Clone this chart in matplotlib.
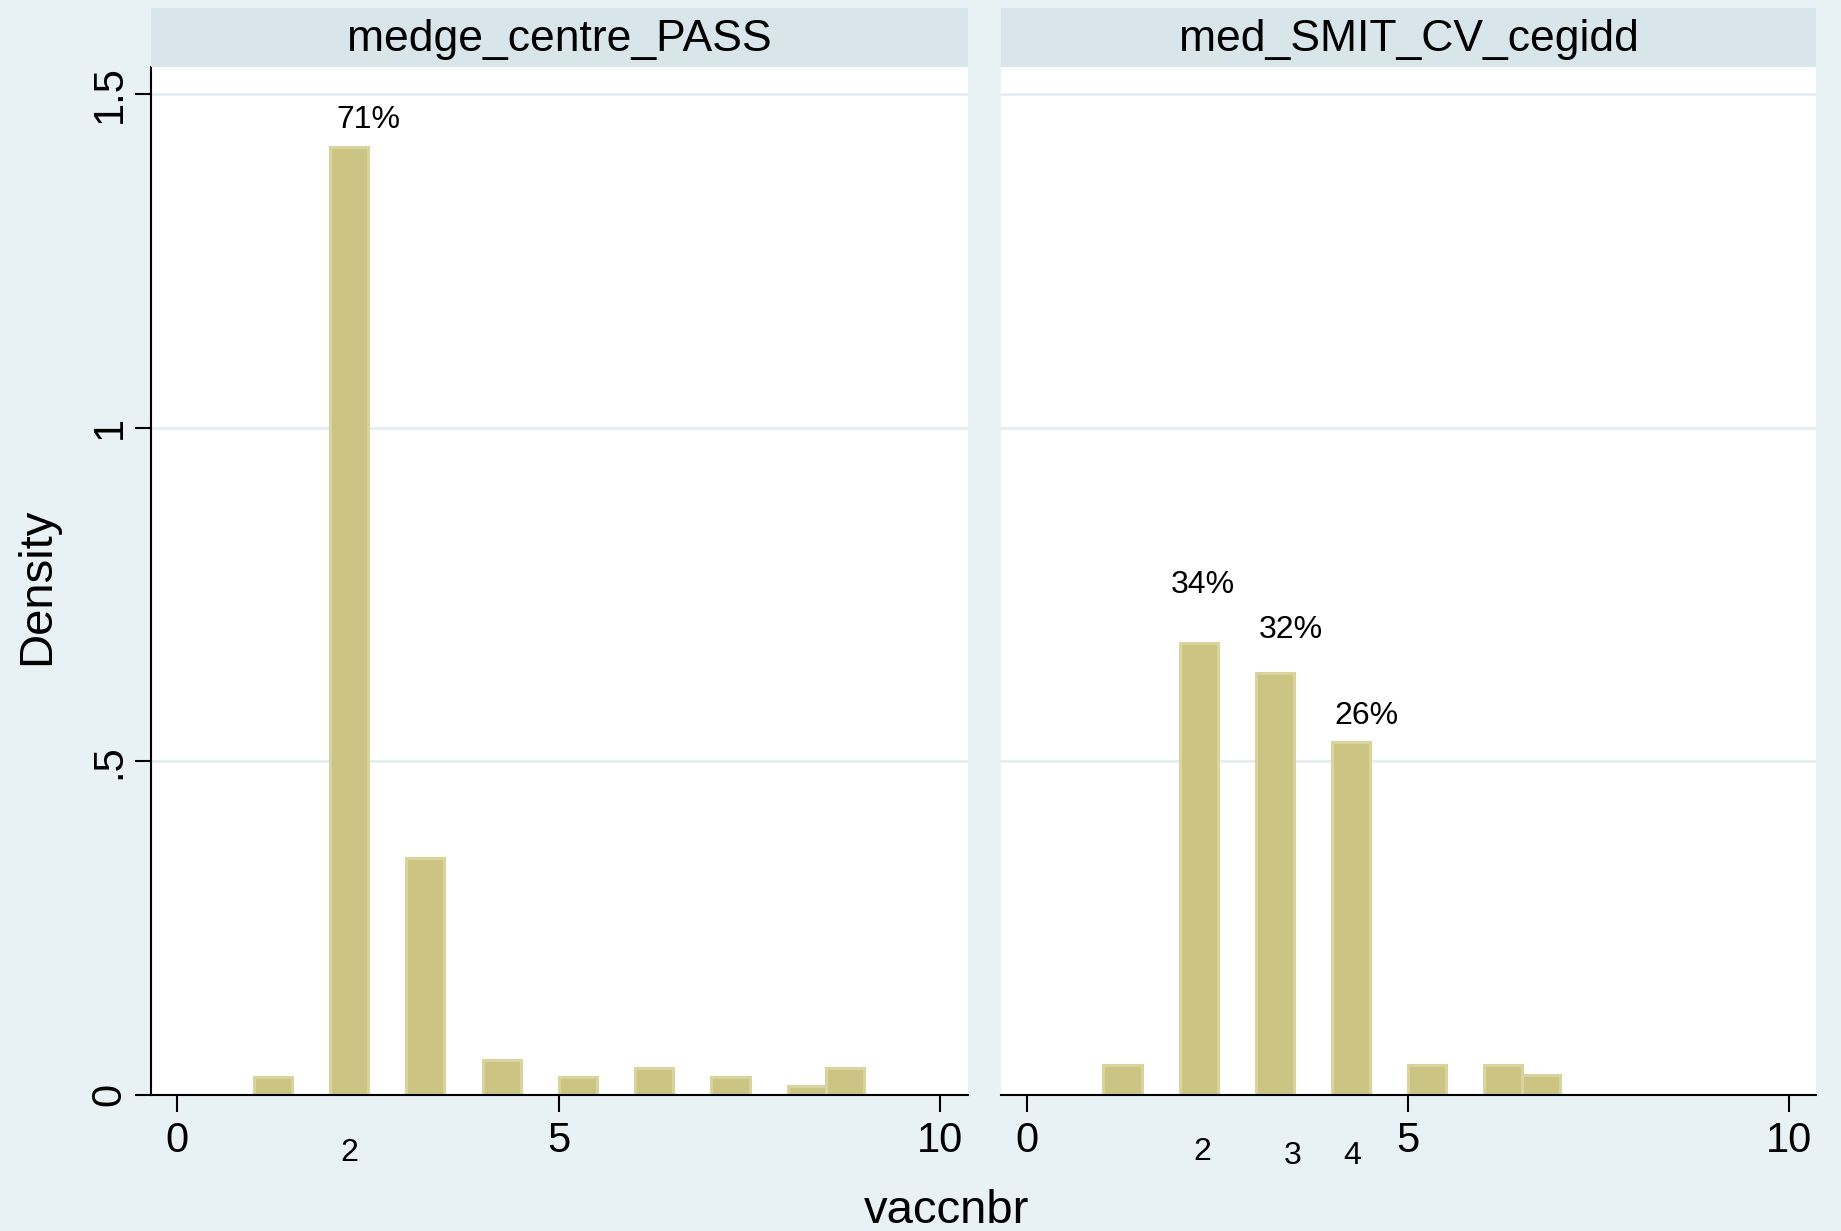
import numpy as np
import matplotlib
matplotlib.use("Agg")
import matplotlib.pyplot as plt
from matplotlib.transforms import offset_copy

# ---- data: number of observations per value of vaccnbr, by group ----
groups = ["medge_centre_PASS", "med_SMIT_CV_cegidd"]

vals_pass = [1, 2, 3, 4, 5, 6, 7, 8, 9]
counts_pass = [2, 108, 27, 4, 2, 3, 2, 1, 3]

vals_smit = [1, 2, 3, 4, 5, 6, 7]
counts_smit = [3, 46, 43, 36, 3, 3, 2]

# histogram bins (width 0.5 starting at the minimum value)
bin_start = 1.0
bin_width = 0.5

# values whose share is written above the bar, and the digits written under the axis
pct_labels_pass = [2]
pct_labels_smit = [2, 3, 4]
val_labels_pass = ["2"]
val_labels_smit = ["2", "3", "4"]

# annotation anchor points (data units)
pct_pos_pass = [(2.51, 1.466)]
pct_pos_smit = [(2.31, 0.769), (3.465, 0.701), (4.455, 0.572)]
val_pos_pass = [(2.26, -0.083)]
val_pos_smit = [(2.30, -0.081), (3.48, -0.087), (4.27, -0.087)]

x_ticks = [0, 5, 10]
y_ticks = [0, 0.5, 1, 1.5]
y_tick_labels = ["0", ".5", "1", "1.5"]

# ---- style ----
W, H = 1841, 1231
DPI = 100
BG = "#E8F1F3"
STRIP = "#D8E5EA"
GRID = "#E4EEF1"
FILL = "#CBC482"
EDGE = "#D9D39E"
FONT = ["Liberation Sans", "DejaVu Sans"]

plt.rcParams["font.family"] = FONT

fig = plt.figure(figsize=(W / DPI, H / DPI), dpi=DPI, facecolor=BG)


def px(x0, y0, x1, y1):
    """figure-fraction rectangle from pixel box (top-left origin)"""
    return [x0 / W, 1 - y1 / H, (x1 - x0) / W, (y1 - y0) / H]


ax_boxes = [(151, 67, 967.5, 1094.7), (1001, 67, 1816, 1094.7)]
strip_boxes = [(151, 8, 967.5, 67), (1001, 8, 1816, 67)]

panels = [
    (vals_pass, counts_pass, pct_labels_pass, pct_pos_pass, val_labels_pass, val_pos_pass),
    (vals_smit, counts_smit, pct_labels_smit, pct_pos_smit, val_labels_smit, val_pos_smit),
]

for i, (vals, counts, pct_vals, pct_pos, vlabels, vpos) in enumerate(panels):
    ax = fig.add_axes(px(*ax_boxes[i]))
    ax.set_facecolor("white")
    vals = np.asarray(vals, dtype=float)
    counts = np.asarray(counts, dtype=float)
    n = counts.sum()
    nbins = int(round((vals.max() - bin_start) / bin_width))
    edges = bin_start + bin_width * np.arange(nbins + 1)
    idx = np.clip(np.floor((vals - bin_start) / bin_width).astype(int), 0, nbins - 1)
    density = np.zeros(nbins)
    np.add.at(density, idx, counts / n / bin_width)
    keep = density > 0
    ax.bar(edges[:-1][keep], density[keep], width=bin_width, align="edge",
           color=FILL, edgecolor=EDGE, linewidth=2.2, zorder=2)

    ax.set_xlim(-0.345, 10.355)
    ax.set_ylim(0, 1.5405)

    for g in y_ticks[1:]:
        ax.axhline(g, color=GRID, linewidth=2.0, zorder=1)

    for s in ["top", "right"]:
        ax.spines[s].set_visible(False)
    ax.spines["bottom"].set_linewidth(1.5)
    ax.spines["bottom"].set_zorder(3)
    ax.spines["left"].set_linewidth(1.5)

    ax.set_xticks(x_ticks)
    ax.set_xticklabels([str(t) for t in x_ticks])
    ax.tick_params(axis="x", length=12, width=1.5, pad=7, labelsize=30, color="black")

    if i == 0:
        ax.set_yticks(y_ticks)
        ax.set_yticklabels(y_tick_labels, rotation=90, va="center", ha="right")
        ax.tick_params(axis="y", length=11.5, width=1.5, pad=4, labelsize=30)
    else:
        ax.spines["left"].set_visible(False)
        ax.set_yticks([])

    # shares above selected bars
    for v, (tx, ty) in zip(pct_vals, pct_pos):
        share = counts[list(vals).index(v)] / n * 100
        tr = offset_copy(ax.transData, fig=fig, y=-8.2, units="points")
        ax.text(tx, ty, f"{share:.0f}%", transform=tr, ha="center", va="baseline",
                fontsize=23, clip_on=False, zorder=4)
    # value digits below the axis
    for lab, (tx, ty) in zip(vlabels, vpos):
        tr = offset_copy(ax.transData, fig=fig, y=-8.2, units="points")
        ax.text(tx, ty, lab, transform=tr, ha="center", va="baseline",
                fontsize=23, clip_on=False)

    # facet strip
    sax = fig.add_axes(px(*strip_boxes[i]))
    sax.set_facecolor(STRIP)
    sax.set_xticks([])
    sax.set_yticks([])
    for s in sax.spines.values():
        s.set_visible(False)
    sax.text(0.5, 0.47, groups[i], ha="center", va="center", fontsize=32,
             transform=sax.transAxes)

fig.text(37.5 / W, 1 - 586 / H, "Density", rotation=90, ha="center", va="center",
         fontsize=34)
fig.text(946.7 / W, 1 - 1223 / H, "vaccnbr", ha="center", va="baseline", fontsize=34)

fig.savefig("out.png", dpi=DPI, facecolor=BG)
